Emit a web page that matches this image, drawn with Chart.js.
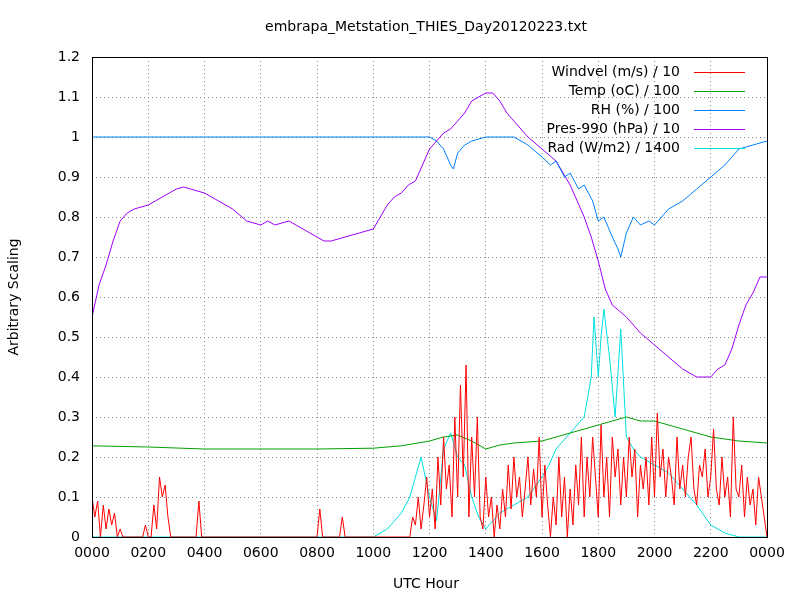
<!DOCTYPE html><html><head><script src="https://cdn.jsdelivr.net/npm/chart.js@4"></script>
<style>body{margin:0;background:#fff}canvas{display:block}</style></head><body>
<div style="width:800px;height:600px"><canvas id="c" width="800" height="600"></canvas></div>
<script>
const xTickLabels=["0000","0200","0400","0600","0800","1000","1200","1400","1600","1800","2000","2200","0000"];
const windStep=0.1;
const windVals=[0.1,0.05,0.09,0,0.08,0.02,0.07,0.03,0.06,0,
0.02,0,0,0,0,0,0,0,0,0.03,
0,0,0.08,0.02,0.15,0.1,0.13,0.05,0,0,
0,0,0,0,0,0,0,0,0.09,0,
0,0,0,0,0,0,0,0,0,0,
0,0,0,0,0,0,0,0,0,0,
0,0,0,0,0,0,0,0,0,0,
0,0,0,0,0,0,0,0,0,0,
0,0.07,0,0,0,0,0,0,0,0.05,
0,0,0,0,0,0,0,0,0,0,
0,0,0,0,0,0,0,0,0,0,
0,0,0,0,0.05,0.03,0.1,0.02,0.08,0.15,
0.05,0.12,0.02,0.2,0.08,0.25,0.12,0.18,0.05,0.3,
0.1,0.38,0.15,0.43,0.05,0.25,0.1,0.3,0.05,0.02,
0.15,0.05,0.1,0,0.08,0.02,0.12,0.05,0.18,0.07,
0.2,0.1,0.15,0.05,0.12,0.2,0.08,0.17,0.1,0.25,
0.05,0.18,0.08,0,0.1,0.03,0.2,0.05,0.15,0,
0.12,0.03,0.18,0.08,0.25,0.05,0.2,0.1,0.25,0.15,
0.05,0.28,0.1,0.2,0.05,0.25,0.15,0.22,0.08,0.2,
0.1,0.25,0.15,0.22,0.05,0.18,0.12,0.2,0.08,0.25,
0.1,0.31,0.15,0.22,0.1,0.2,0.15,0.08,0.25,0.12,
0.18,0.1,0.2,0.25,0.12,0.08,0.18,0.15,0.22,0.1,
0.15,0.27,0.12,0.08,0.2,0.1,0.15,0.05,0.3,0.12,
0.1,0.18,0.05,0.15,0.08,0.12,0.03,0.15,0.1,0.05,0];
const tempHours=[0,2,4,6,8,10,11,12,12.5,13,13.5,14,14.5,15,16,17,18,18.5,19,19.5,20,21,22,23,24];
const tempVals=[0.228,0.225,0.22,0.22,0.22,0.222,0.228,0.24,0.25,0.255,0.24,0.22,0.23,0.235,0.24,0.26,0.28,0.29,0.3,0.29,0.29,0.27,0.25,0.24,0.235];
const rhHours=[0,12,12.25,12.5,12.75,12.85,13,13.25,13.5,14,15,15.5,16,16.3,16.5,16.8,17,17.3,17.5,17.8,18,18.2,18.5,18.7,18.8,19,19.25,19.5,19.8,20,20.25,20.5,21,21.5,22,22.5,23,23.5,24];
const rhVals=[1,1,0.99,0.97,0.93,0.92,0.96,0.98,0.99,1,1,0.98,0.95,0.93,0.94,0.9,0.91,0.87,0.88,0.84,0.79,0.8,0.75,0.72,0.7,0.76,0.8,0.78,0.79,0.78,0.8,0.82,0.84,0.87,0.9,0.93,0.97,0.98,0.99];
const presHours=[0,0.25,0.5,0.75,1,1.25,1.5,2,2.25,2.5,2.75,3,3.25,3.5,4,4.25,4.5,5,5.5,6,6.25,6.5,7,7.25,7.5,8,8.25,8.5,9,9.5,10,10.25,10.5,10.75,11,11.25,11.5,11.75,12,12.25,12.5,12.75,13,13.25,13.5,13.75,14,14.25,14.5,14.75,15,15.5,16,16.5,17,17.5,17.75,18,18.25,18.5,19,19.5,20,20.5,21,21.25,21.5,22,22.25,22.5,22.75,23,23.25,23.5,23.75,24];
const presVals=[0.55,0.63,0.68,0.74,0.79,0.81,0.82,0.83,0.84,0.85,0.86,0.87,0.875,0.87,0.86,0.85,0.84,0.82,0.79,0.78,0.79,0.78,0.79,0.78,0.77,0.75,0.74,0.74,0.75,0.76,0.77,0.8,0.83,0.85,0.86,0.88,0.89,0.93,0.97,0.99,1.01,1.02,1.04,1.06,1.09,1.1,1.11,1.11,1.09,1.06,1.04,1.0,0.97,0.94,0.88,0.8,0.75,0.69,0.62,0.58,0.55,0.51,0.48,0.45,0.42,0.41,0.4,0.4,0.42,0.43,0.47,0.53,0.58,0.61,0.65,0.65];
const radHours=[0,10,10.5,11,11.3,11.5,11.7,12,12.25,12.5,12.75,13,13.25,13.5,13.75,14,14.5,15,15.5,16,16.25,16.5,17,17.25,17.5,17.75,17.85,18,18.1,18.2,18.4,18.6,18.8,19,19.25,19.5,20,20.5,21,21.5,22,22.5,23,24];
const radVals=[0,0,0.02,0.06,0.1,0.15,0.2,0.1,0.04,0.22,0.26,0.2,0.18,0.1,0.05,0.02,0.06,0.08,0.1,0.15,0.18,0.22,0.26,0.28,0.3,0.4,0.55,0.4,0.5,0.57,0.45,0.3,0.52,0.25,0.22,0.2,0.18,0.16,0.12,0.08,0.03,0.01,0,0];
const names=["Windvel (m/s) / 10","Temp (oC) / 100","RH (%) / 100","Pres-990 (hPa) / 10","Rad (W/m2) / 1400"];
const colors=["#ff0000","#00a000","#0080ff","#a000ff","#00e0e0"];
const zip=(h,v)=>h.map((x,i)=>({x,y:v[i]}));
const series=[windVals.map((y,i)=>({x:i*windStep,y})),zip(tempHours,tempVals),zip(rhHours,rhVals),zip(presHours,presVals),zip(radHours,radVals)];
const FONT="'DejaVu Sans', sans-serif";
const deco={id:'deco',afterDraw(c){const x=c.ctx,a=c.chartArea;x.save();
x.strokeStyle='#000';x.lineWidth=1;x.strokeRect(a.left+.5,a.top+.5,a.right-a.left,a.bottom-a.top);
x.fillStyle='#000';x.font='14px '+FONT;x.textAlign='center';x.textBaseline='middle';
x.fillText('embrapa_Metstation_THIES_Day20120223.txt',426,27);x.fillText('UTC Hour',426,584);
x.save();x.translate(14,297);x.rotate(-Math.PI/2);x.fillText('Arbitrary Scaling',0,0);x.restore();
x.textAlign='right';names.forEach((n,i)=>{const y=72+i*19;x.fillStyle='#000';x.fillText(n,680,y);x.strokeStyle=colors[i];x.beginPath();x.moveTo(694,y+.5);x.lineTo(745,y+.5);x.stroke();});
x.restore();}};
new Chart(document.getElementById('c'),{type:'line',
data:{datasets:series.map((d,i)=>({label:names[i],data:d,borderColor:colors[i],borderWidth:1,pointRadius:0,tension:0}))},
options:{responsive:false,animation:false,layout:{padding:{top:57,right:33,left:0,bottom:0}},
plugins:{legend:{display:false},tooltip:{enabled:false}},
scales:{x:{type:'linear',min:0,max:24,afterFit(s){s.height=63},afterBuildTicks(s){s.ticks=xTickLabels.map((_,i)=>({value:i*2}))},
ticks:{color:'#000',font:{size:14,family:FONT},maxRotation:0,padding:8,callback:(v,i)=>xTickLabels[i]},
grid:{color:'#888',drawTicks:false,tickBorderDash:[1,3]},border:{display:false,dash:[1,3]}},
y:{min:0,max:1.2,afterFit(s){s.width=92},ticks:{stepSize:0.1,color:'#000',font:{size:14,family:FONT},padding:12,callback:v=>Math.round(v*10)/10},
grid:{color:'#888',drawTicks:false},border:{display:false,dash:[1,3]}}}},
plugins:[deco]});
</script></body></html>
